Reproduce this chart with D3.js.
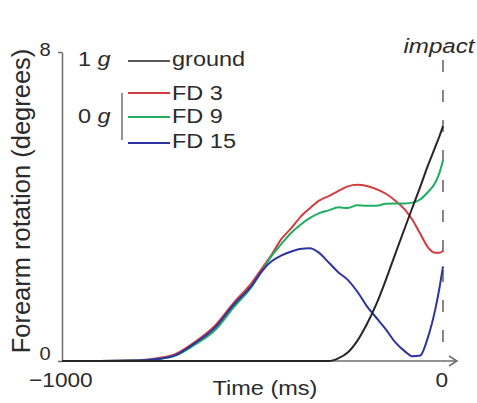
<!DOCTYPE html>
<html>
<head>
<meta charset="utf-8">
<script src="https://cdn.jsdelivr.net/npm/d3@7"></script>
<style>
  body { margin: 0; background: #fff; }
  text { font-family: "Liberation Sans", Arial, sans-serif; fill: #2b2b2b; }
</style>
</head>
<body>
<svg id="chart" width="477" height="403"></svg>
<script>
// time before impact (ms)
var times = [-1000, -900, -800, -750, -700, -650, -600, -550, -500, -475,
             -450, -425, -400, -375, -350, -325, -300, -275, -250, -225,
             -200, -175, -150, -125, -100, -80, -60, -40, -20, -10, 0];

// forearm rotation (degrees)
var ground = [0, 0, 0, 0, 0, 0, 0, 0, 0, 0,
              0, 0, 0, 0, 0, 0, 0, 0.07, 0.22, 0.52,
              0.95, 1.47, 2.1, 2.78, 3.45, 3.98, 4.5, 5.05, 5.55, 5.8, 6.08];
var fd3 = [0, 0, 0.02, 0.07, 0.19, 0.5, 0.9, 1.5, 2.05, 2.4,
           2.75, 3.15, 3.42, 3.72, 3.95, 4.15, 4.27, 4.4, 4.52, 4.56,
           4.53, 4.45, 4.33, 4.15, 3.92, 3.65, 3.3, 2.95, 2.8, 2.8, 2.85];
var fd9 = [0, 0, 0.01, 0.05, 0.15, 0.43, 0.78, 1.38, 1.95, 2.33,
           2.72, 3.02, 3.3, 3.52, 3.7, 3.83, 3.9, 3.98, 3.96, 4.03,
           4.02, 4.02, 4.07, 4.08, 4.08, 4.1, 4.18, 4.37, 4.62, 4.85, 5.2];
var fd15 = [0, 0, 0.01, 0.05, 0.16, 0.47, 0.85, 1.45, 1.98, 2.33,
            2.58, 2.73, 2.83, 2.9, 2.92, 2.8, 2.55, 2.3, 2.1, 1.8,
            1.42, 1.12, 0.82, 0.48, 0.25, 0.12, 0.14, 0.6, 1.35, 1.85, 2.45];

var seriesNames = ["ground", "FD 3", "FD 9", "FD 15"];
var seriesColors = ["#262626", "#d23c3e", "#1fae62", "#2e33a2"];
var yTicks = [0, 8];
var xTicks = [-1000, 0];

var svg = d3.select("#chart");

var x = d3.scaleLinear().domain([-1000, 0]).range([62, 443]);
var y = d3.scaleLinear().domain([0, 8]).range([361, 52]);

var sx = 1.12; // the original font is wider than Arial

// y axis
var yAxis = svg.append("g")
    .attr("transform", "translate(62,0)")
    .call(d3.axisLeft(y).tickValues(yTicks).tickSize(4).tickSizeOuter(0));
yAxis.select(".domain").attr("stroke", "#6e6e6e").attr("stroke-width", 1.5);
yAxis.selectAll(".tick line").attr("stroke", "#6e6e6e").attr("stroke-width", 1.5);
yAxis.selectAll(".tick text")
    .style("font-size", "18px")
    .attr("fill", "#2b2b2b")
    .attr("x", -10)
    .attr("dy", function(d) { return d === 0 ? "-0.1em" : "0.18em"; })
    .attr("transform", "scale(" + sx + ",1)");

// x axis (labels only, line drawn below with the arrow)
var xAxis = svg.append("g")
    .attr("transform", "translate(0,361)")
    .call(d3.axisBottom(x).tickValues(xTicks).tickSize(0).tickSizeOuter(0)
        .tickFormat(function(d) { return d === 0 ? "0" : "\u22121000"; }));
xAxis.select(".domain").remove();
xAxis.selectAll(".tick text")
    .style("font-size", "21px")
    .attr("fill", "#2b2b2b")
    .attr("y", 11)
    .attr("x", -1.5)
    .attr("transform", "scale(1.08,1)");

svg.append("line")
    .attr("x1", x(-1000)).attr("x2", x(0) + 13)
    .attr("y1", y(0)).attr("y2", y(0))
    .attr("stroke", "#6e6e6e").attr("stroke-width", 1.5);
svg.append("path")
    .attr("d", "M" + (x(0) + 6) + "," + (y(0) - 5) + "L" + (x(0) + 14) + "," + y(0) +
               "L" + (x(0) + 6) + "," + (y(0) + 5))
    .attr("fill", "none").attr("stroke", "#6e6e6e").attr("stroke-width", 1.5);

// impact line
svg.append("line")
    .attr("x1", x(0)).attr("x2", x(0))
    .attr("y1", 60).attr("y2", y(0))
    .attr("stroke", "#8d8585").attr("stroke-width", 2)
    .attr("stroke-dasharray", "12,18");

svg.append("text")
    .attr("transform", "translate(" + 439 + ",53) scale(1.15,1)")
    .attr("text-anchor", "middle")
    .style("font-size", "21px")
    .style("font-style", "italic")
    .text("impact");

// curves
var line = d3.line()
    .x(function(d, i) { return x(times[i]); })
    .y(function(d) { return y(d); })
    .curve(d3.curveMonotoneX);

// ground on top, as in the figure
[fd3, fd9, fd15, ground].forEach(function(vals) {
    var k = [ground, fd3, fd9, fd15].indexOf(vals);
    svg.append("path")
        .datum(vals)
        .attr("d", line)
        .attr("fill", "none")
        .attr("stroke", seriesColors[k])
        .attr("stroke-width", 2)
        .attr("stroke-linejoin", "round");
});

// axis titles
svg.append("text")
    .attr("transform", "translate(265,395) scale(1.12,1)")
    .attr("text-anchor", "middle")
    .style("font-size", "21px")
    .text("Time (ms)");

svg.append("text")
    .attr("transform", "translate(30,201) rotate(-90)")
    .attr("text-anchor", "middle")
    .style("font-size", "25.5px")
    .text("Forearm rotation (degrees)");

// legend
var legendY = [61, 93, 117, 143];
var legendBase = [66, 100, 123, 148];
seriesNames.forEach(function(name, i) {
    svg.append("line")
        .attr("x1", 128).attr("x2", 170)
        .attr("y1", legendY[i]).attr("y2", legendY[i])
        .attr("stroke", i === 0 ? "#5a5a5a" : seriesColors[i])
        .attr("stroke-width", 2);
    svg.append("text")
        .attr("transform", "translate(172," + legendBase[i] + ") scale(" + sx + ",1)")
        .style("font-size", "21px")
        .text(name);
});

function gravity(label, yy) {
    var t = svg.append("text")
        .attr("transform", "translate(78," + yy + ") scale(" + sx + ",1)")
        .style("font-size", "21px");
    t.append("tspan").text(label + " ");
    t.append("tspan").style("font-style", "italic").text("g");
}
gravity("1", 66);
gravity("0", 123);

svg.append("line")
    .attr("x1", 122).attr("x2", 122)
    .attr("y1", 93).attr("y2", 140)
    .attr("stroke", "#6e6e6e").attr("stroke-width", 1.5);
</script>
</body>
</html>
